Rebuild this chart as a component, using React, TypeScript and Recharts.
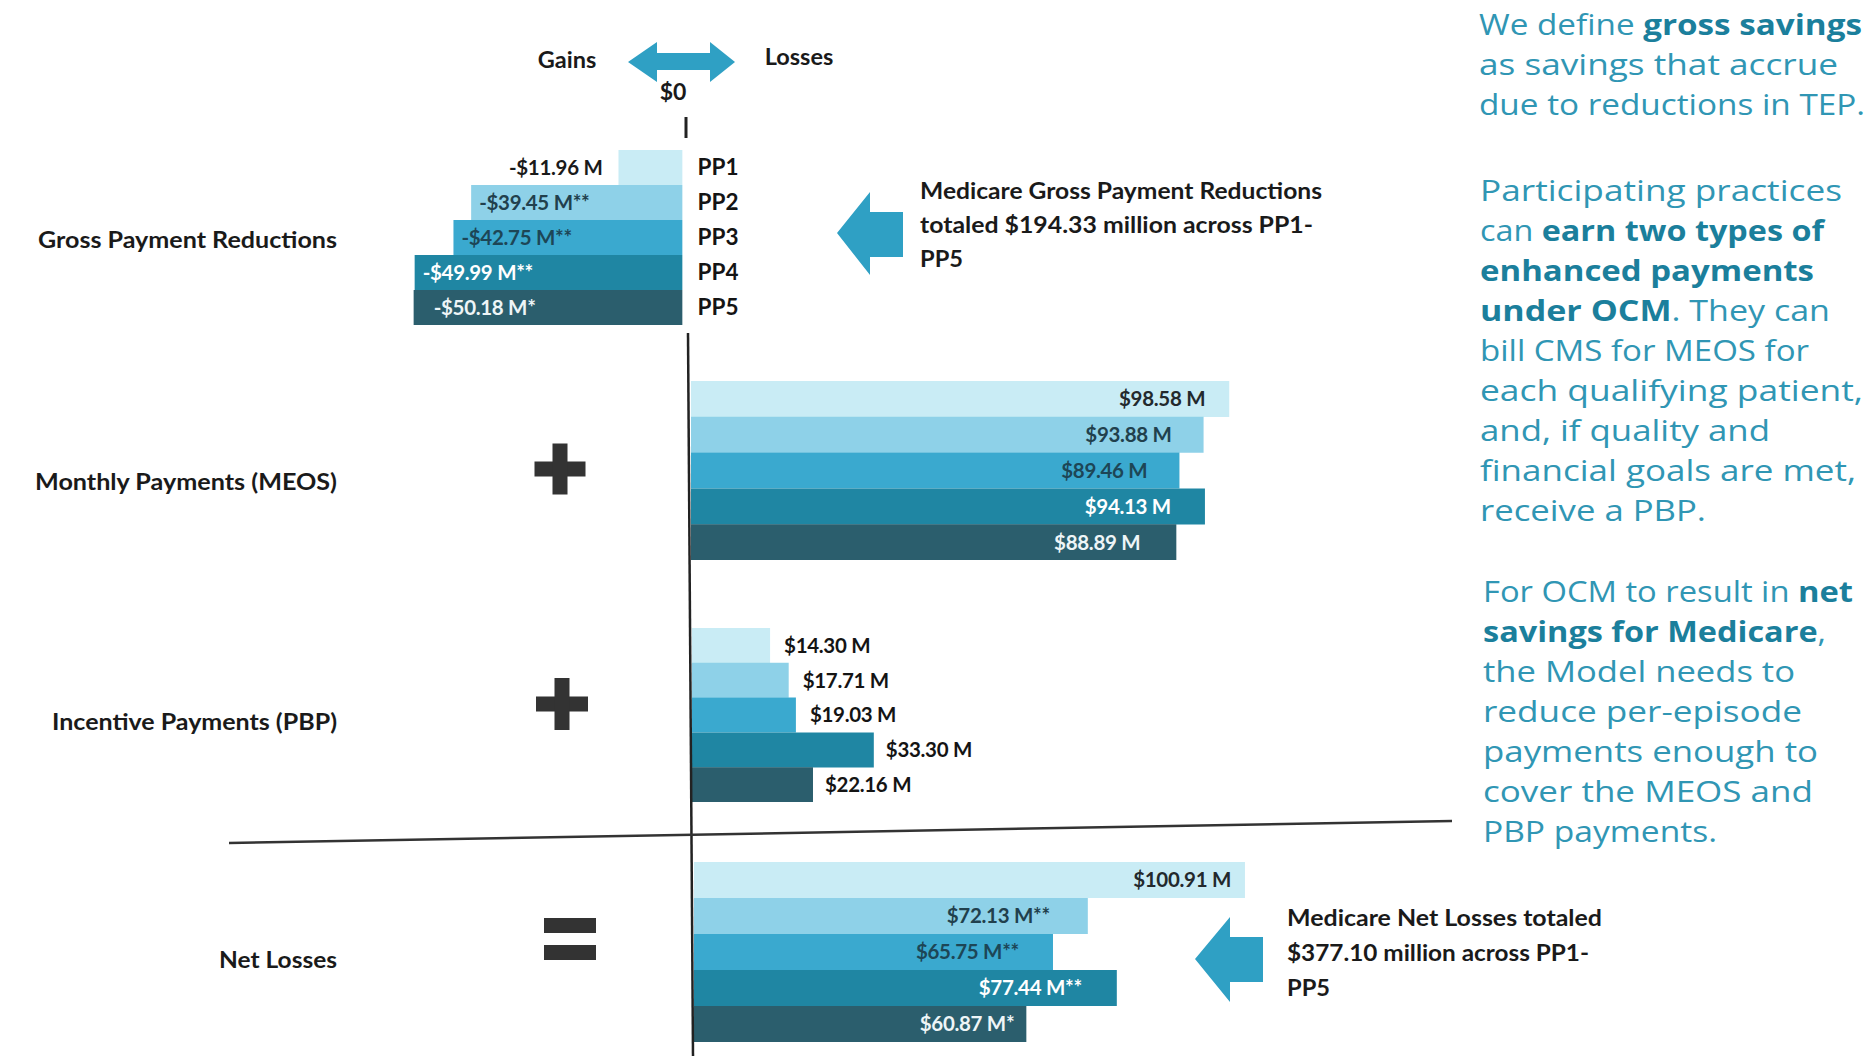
import React from 'react';
import { BarChart, Bar, XAxis, YAxis, Cell, LabelList } from 'recharts';

// ---------- data ----------
const periods = ['PP1', 'PP2', 'PP3', 'PP4', 'PP5'];
const grossValues = [-11.96, -39.45, -42.75, -49.99, -50.18];
const grossLabels = ['-$11.96 M', '-$39.45 M**', '-$42.75 M**', '-$49.99 M**', '-$50.18 M*'];
const meosValues = [98.58, 93.88, 89.46, 94.13, 88.89];
const meosLabels = ['$98.58 M', '$93.88 M', '$89.46 M', '$94.13 M', '$88.89 M'];
const pbpValues = [14.3, 17.71, 19.03, 33.3, 22.16];
const pbpLabels = ['$14.30 M', '$17.71 M', '$19.03 M', '$33.30 M', '$22.16 M'];
const netValues = [100.91, 72.13, 65.75, 77.44, 60.87];
const netLabels = ['$100.91 M', '$72.13 M**', '$65.75 M**', '$77.44 M**', '$60.87 M*'];

const sectionTitles = ['Gross Payment Reductions', 'Monthly Payments (MEOS)', 'Incentive Payments (PBP)', 'Net Losses'];

// ---------- styles ----------
const FONT = 'Lato, "Open Sans", sans-serif';
const RFONT = '"Open Sans", Lato, sans-serif';
const periodColors = ['#c9ecf5', '#8ed1e8', '#3aa9cf', '#1f86a3', '#2b5e6d'];
const darkLabelColors = ['#23292d', '#21404d', '#1d4656', '#ffffff', '#eef5f7'];
const blackLabelColors = ['#141414', '#141414', '#141414', '#141414', '#141414'];
const grossLabelColors = ['#1a1a1a', '#21404d', '#1d4656', '#ffffff', '#eef5f7'];
const grossLabelPad = [16, 8, 8, 8, 20];
const TEAL = '#3096b4';
const TEAL_BOLD = '#1b7f9c';
const ARROW = '#2fa0c4';
const INK = '#333333';

const build = (values: number[], labels: string[]) =>
  periods.map((p, i) => ({ period: p, value: values[i], label: labels[i] }));

type Mode = 'insideRight' | 'outsideRight' | 'insideLeft' | 'outsideLeft';

const makeLabel = (labels: string[], colors: string[], modes: Mode[], pads: number[]) => (props: any) => {
  const { x, y, width, height, index } = props;
  const i = typeof index === 'number' ? index : labels.indexOf(props.value);
  const l = Math.min(x, x + width);
  const r = Math.max(x, x + width);
  const cy = y + height / 2;
  const mode = modes[i];
  const pad = pads[i];
  let tx = r - pad;
  let anchor: 'start' | 'end' = 'end';
  if (mode === 'outsideRight') { tx = r + pad; anchor = 'start'; }
  if (mode === 'insideLeft') { tx = l + pad; anchor = 'start'; }
  if (mode === 'outsideLeft') { tx = l - pad; anchor = 'end'; }
  return (
    <text x={tx} y={cy} dy="0.36em" textAnchor={anchor} fill={colors[i]}
      fontFamily={FONT} fontWeight={700} fontSize={20.5} letterSpacing={-0.3}>
      {labels[i]}
    </text>
  );
};

const SCALE = 5.46; // px per $M

function Section(props: {
  data: any[]; left: number; top: number; height: number; domain: [number, number];
  scale: number; label: (p: any) => any; rightTicks?: boolean;
}) {
  const { data, left, top, height, domain, scale, label, rightTicks } = props;
  const plotW = (domain[1] - domain[0]) * scale;
  const axisW = rightTicks ? 80 : 0;
  return (
    <div style={{ position: 'absolute', left, top }}>
      <BarChart width={plotW + axisW} height={height} data={data} layout="vertical"
        margin={{ top: 0, right: 0, bottom: 0, left: 0 }} barCategoryGap={0} barGap={0}>
        <XAxis type="number" domain={domain} hide allowDataOverflow />
        {rightTicks ? (
          <YAxis type="category" dataKey="period" orientation="right" width={axisW}
            axisLine={false} tickLine={false} tickSize={0} tickMargin={15} interval={0}
            tick={{ fill: '#141414', fontSize: 22.5, fontWeight: 700, fontFamily: FONT }} />
        ) : (
          <YAxis type="category" dataKey="period" hide />
        )}
        <Bar dataKey="value" isAnimationActive={false}>
          {data.map((d, i) => <Cell key={d.period} fill={periodColors[i]} />)}
          <LabelList dataKey="label" content={label} />
        </Bar>
      </BarChart>
    </div>
  );
}

type Seg = [string, boolean];
const rightBlock: { y: number; x: number; w: number; segs: Seg[] }[] = [
  { y: 25, x: 1479, w: 383, segs: [['We define ', false], ['gross savings', true]] },
  { y: 65, x: 1479, w: 359, segs: [['as savings that accrue', false]] },
  { y: 105, x: 1479, w: 386, segs: [['due to reductions in TEP.', false]] },
  { y: 191, x: 1480, w: 362, segs: [['Participating practices', false]] },
  { y: 231, x: 1480, w: 344, segs: [['can ', false], ['earn two types of', true]] },
  { y: 271, x: 1480, w: 334, segs: [['enhanced payments', true]] },
  { y: 311, x: 1480, w: 350, segs: [['under OCM', true], ['. They can', false]] },
  { y: 351, x: 1480, w: 329, segs: [['bill CMS for MEOS for', false]] },
  { y: 391, x: 1480, w: 383, segs: [['each qualifying patient,', false]] },
  { y: 431, x: 1480, w: 290, segs: [['and, if quality and', false]] },
  { y: 471, x: 1480, w: 376, segs: [['financial goals are met,', false]] },
  { y: 511, x: 1480, w: 226, segs: [['receive a PBP.', false]] },
  { y: 592, x: 1483, w: 370, segs: [['For OCM to result in ', false], ['net', true]] },
  { y: 632, x: 1483, w: 343, segs: [['savings for Medicare', true], [',', false]] },
  { y: 672, x: 1483, w: 312, segs: [['the Model needs to', false]] },
  { y: 712, x: 1483, w: 319, segs: [['reduce per-episode', false]] },
  { y: 752, x: 1483, w: 335, segs: [['payments enough to', false]] },
  { y: 792, x: 1483, w: 330, segs: [['cover the MEOS and', false]] },
  { y: 832, x: 1483, w: 234, segs: [['PBP payments.', false]] },
];

const grossNote = [
  { t: 'Medicare Gross Payment Reductions', w: 402 },
  { t: 'totaled $194.33 million across PP1-', w: 393 },
  { t: 'PP5', w: 43 },
];
const netNote = [
  { t: 'Medicare Net Losses totaled', w: 315 },
  { t: '$377.10 million across PP1-', w: 302 },
  { t: 'PP5', w: 43 },
];

export default function App() {
  const gross = build(grossValues, grossLabels);
  const meos = build(meosValues, meosLabels);
  const pbp = build(pbpValues, pbpLabels);
  const net = build(netValues, netLabels);

  const grossDomain: [number, number] = [-60, 0];
  const grossScale = 5.36;
  const posDomain: [number, number] = [0, 110];

  const titleY = [240, 482, 722, 960];
  const titleW = [299, 302, 285, 118];

  return (
    <div style={{ position: 'absolute', left: 0, top: 0, width: 1875, height: 1056, background: '#ffffff', overflow: 'hidden' }}>
      <Section data={gross} left={683 - (grossDomain[1] - grossDomain[0]) * grossScale} top={150} height={175}
        domain={grossDomain} scale={grossScale} rightTicks
        label={makeLabel(grossLabels, grossLabelColors,
          ['outsideLeft', 'insideLeft', 'insideLeft', 'insideLeft', 'insideLeft'], grossLabelPad)} />
      <Section data={meos} left={691} top={381} height={179} domain={posDomain} scale={SCALE}
        label={makeLabel(meosLabels, darkLabelColors,
          ['insideRight', 'insideRight', 'insideRight', 'insideRight', 'insideRight'], [24, 32, 32, 34, 36])} />
      <Section data={pbp} left={692} top={628} height={174} domain={posDomain} scale={SCALE}
        label={makeLabel(pbpLabels, blackLabelColors,
          ['outsideRight', 'outsideRight', 'outsideRight', 'outsideRight', 'outsideRight'], [14, 14, 14, 12, 12])} />
      <Section data={net} left={694} top={862} height={180} domain={posDomain} scale={SCALE}
        label={makeLabel(netLabels, darkLabelColors,
          ['insideRight', 'insideRight', 'insideRight', 'insideRight', 'insideRight'], [14, 38, 34, 35, 12])} />

      <svg width={1875} height={1056} style={{ position: 'absolute', left: 0, top: 0, pointerEvents: 'none' }}>
        {/* header */}
        <text x={567} y={60} dy="0.35em" textAnchor="middle" fontFamily={FONT} fontWeight={700} fontSize={23.5} fill="#1a1a1a">Gains</text>
        <text x={799} y={57} dy="0.35em" textAnchor="middle" fontFamily={FONT} fontWeight={700} fontSize={23.5} fill="#1a1a1a">Losses</text>
        <text x={673} y={92} dy="0.35em" textAnchor="middle" fontFamily={FONT} fontWeight={700} fontSize={23} fill="#1a1a1a">$0</text>
        <polygon points="628,62 657,42 657,53 710,53 710,42 735,62 710,82 710,70 657,70 657,82" fill={ARROW} />
        <line x1={686} y1={117} x2={686} y2={138} stroke="#222" strokeWidth={3} />

        {/* axes / divider */}
        <line x1={688} y1={333} x2={693} y2={1056} stroke="#222" strokeWidth={2.5} />
        <line x1={229} y1={843} x2={1452} y2={821} stroke={INK} strokeWidth={2.5} />

        {/* section titles */}
        {sectionTitles.map((t, i) => (
          <text key={t} x={337} y={titleY[i]} dy="0.35em" textAnchor="end" fontFamily={FONT} fontWeight={700}
            fontSize={22.5} fill="#1a1a1a" textLength={titleW[i]} lengthAdjust="spacingAndGlyphs">{t}</text>
        ))}

        {/* operators */}
        <rect x={560 - 25.5} y={469 - 7.5} width={51} height={15} fill={INK} />
        <rect x={560 - 7.5} y={469 - 25.5} width={15} height={51} fill={INK} />
        <rect x={562 - 26} y={704 - 7.5} width={52} height={15} fill={INK} />
        <rect x={562 - 7.5} y={704 - 26} width={15} height={52} fill={INK} />
        <rect x={544} y={918} width={52} height={15} fill={INK} />
        <rect x={544} y={945} width={52} height={15} fill={INK} />

        {/* callouts */}
        <polygon points="837,233 870,192 870,212 903,212 903,257 870,257 870,275" fill={ARROW} />
        {grossNote.map((l, i) => (
          <text key={l.t} x={920} y={191 + i * 34} dy="0.35em" fontFamily={FONT} fontWeight={700} fontSize={22.5}
            fill="#1a1a1a" textLength={l.w} lengthAdjust="spacingAndGlyphs">{l.t}</text>
        ))}
        <polygon points="1195,959 1230,917 1230,937 1263,937 1263,982 1230,982 1230,1002" fill={ARROW} />
        {netNote.map((l, i) => (
          <text key={l.t} x={1287} y={918 + i * 35} dy="0.35em" fontFamily={FONT} fontWeight={700} fontSize={22.5}
            fill="#1a1a1a" textLength={l.w} lengthAdjust="spacingAndGlyphs">{l.t}</text>
        ))}

        {/* right explanatory text */}
        {rightBlock.map((l, i) => (
          <text key={i} x={l.x} y={l.y} dy="0.35em" fontFamily={RFONT} fontSize={28.5}
            textLength={l.w} lengthAdjust="spacingAndGlyphs">
            {l.segs.map((s, j) => (
              <tspan key={j} fontWeight={s[1] ? 700 : 400} fill={s[1] ? TEAL_BOLD : TEAL}>{s[0]}</tspan>
            ))}
          </text>
        ))}
      </svg>
    </div>
  );
}
